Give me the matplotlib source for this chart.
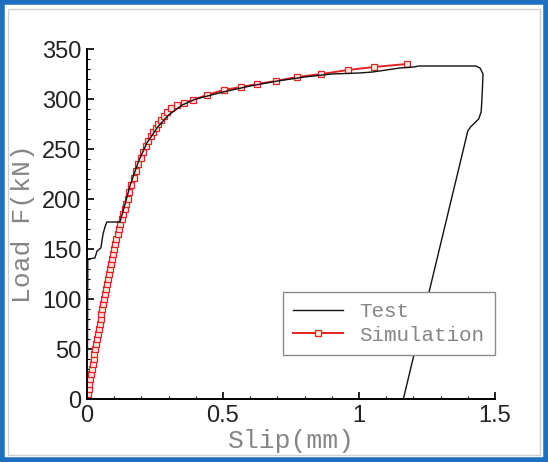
import matplotlib
matplotlib.use("Agg")
import matplotlib.pyplot as plt
from matplotlib.patches import Rectangle
from matplotlib.ticker import MultipleLocator

plt.rcParams["font.family"] = ["Liberation Sans", "DejaVu Sans"]

# Test curve (slip mm, load kN)
testSlip = [0.0, 0.002, 0.003, 0.029, 0.037, 0.051, 0.059, 0.066, 0.073, 0.121,
            0.14, 0.16, 0.19, 0.22, 0.26, 0.30, 0.35, 0.40, 0.50, 0.60,
            0.70, 0.80, 0.90, 1.00, 1.05, 1.10, 1.15, 1.20, 1.22, 1.43,
            1.445, 1.456, 1.452, 1.449, 1.44, 1.41, 1.40, 1.163]
testLoad = [0, 60, 140, 141, 148, 151, 165, 172, 177, 177,
            195, 215, 238, 256, 272, 284, 294, 300, 307, 313,
            318, 322, 325, 326, 327, 329, 331, 332, 333, 333,
            331, 325, 300, 287, 280, 272, 268, 0]

# Simulation curve
simSlip = [0.0, 0.003, 0.006, 0.009, 0.012, 0.015, 0.018, 0.021, 0.024, 0.027,
           0.030, 0.034, 0.037, 0.040, 0.043, 0.046, 0.050, 0.053, 0.056, 0.060,
           0.063, 0.067, 0.070, 0.074, 0.077, 0.081, 0.085, 0.088, 0.092, 0.096,
           0.100, 0.104, 0.108, 0.113, 0.117, 0.122, 0.127, 0.132, 0.138, 0.143,
           0.149, 0.156, 0.163, 0.171, 0.180, 0.189, 0.198, 0.207, 0.216, 0.225,
           0.234, 0.243, 0.252, 0.262, 0.272, 0.283, 0.295, 0.310, 0.330, 0.355,
           0.390, 0.440, 0.502, 0.567, 0.625, 0.695, 0.772, 0.862, 0.959, 1.055,
           1.175]
simLoad = [0, 5, 10, 15, 20, 25, 30, 35, 40, 45,
           50, 55, 60, 65, 70, 75, 80, 85, 90, 95,
           100, 105, 110, 115, 120, 125, 130, 135, 140, 145,
           150, 155, 160, 165, 170, 175, 180, 185, 190, 195,
           200, 207, 214, 221, 228, 235, 241, 247, 253, 258,
           263, 267, 271, 275, 279, 283, 287, 291, 294, 296,
           299, 304, 309, 312, 315, 318, 322, 325, 329, 332,
           335]

W, H = 548, 462
fig = plt.figure(figsize=(W / 100, H / 100), dpi=100)
ax = fig.add_axes([87 / W, 1 - 399 / H, (495 - 87) / W, (399 - 49) / H])

# frames around the picture
fig.patches.append(Rectangle((8 / W, 7 / H), 532 / W, 446 / H, transform=fig.transFigure,
                             fill=False, edgecolor="#d0d0d0", linewidth=1))
fig.patches.append(Rectangle((2 / W, 2 / H), (W - 4) / W, (H - 4) / H, transform=fig.transFigure,
                             fill=False, edgecolor="#1f6fc0", linewidth=4))

ax.plot(testSlip, testLoad, color="#111111", linewidth=1.0, label="Test", zorder=3)
ax.plot(simSlip, simLoad, color="#e02424", linewidth=1.4, marker="s", markersize=5,
        markerfacecolor="#fde4e4", markeredgecolor="#e02424", markeredgewidth=0.9,
        label="Simulation", zorder=2)

ax.set_xlim(0, 1.5)
ax.set_ylim(0, 350)
ax.xaxis.set_major_locator(MultipleLocator(0.5))
ax.xaxis.set_minor_locator(MultipleLocator(0.1))
ax.yaxis.set_major_locator(MultipleLocator(50))
ax.yaxis.set_minor_locator(MultipleLocator(10))
ax.set_xticks([0, 0.5, 1, 1.5], ["0", "0.5", "1", "1.5"])
ax.spines["top"].set_visible(False)
ax.spines["right"].set_visible(False)
for s in ["left", "bottom"]:
    ax.spines[s].set_linewidth(1.4)
ax.tick_params(which="major", direction="in", length=5, width=1.2, labelsize=17,
               labelcolor="#222222", pad=4)
ax.tick_params(which="minor", direction="in", length=2.5, width=0.8)

ax.set_xlabel("Slip(mm)", family="Liberation Mono", fontsize=19, color="#858585", labelpad=2)
ax.set_ylabel("Load F(kN)", family="Liberation Mono", fontsize=19, color="#858585", labelpad=2)
ax.yaxis.set_label_coords(-0.128, 0.5)

leg = ax.legend(loc="lower right", bbox_to_anchor=(1.0, 0.1257), borderaxespad=0,
                prop={"family": "Liberation Mono", "size": 15}, fancybox=False,
                edgecolor="#8a8a8a", framealpha=1, handlelength=2.4, handletextpad=0.8,
                labelspacing=0.2, borderpad=0.5)
leg.get_frame().set_linewidth(1.0)
for t in leg.get_texts():
    t.set_color("#858585")

fig.savefig("out.png", dpi=100)
